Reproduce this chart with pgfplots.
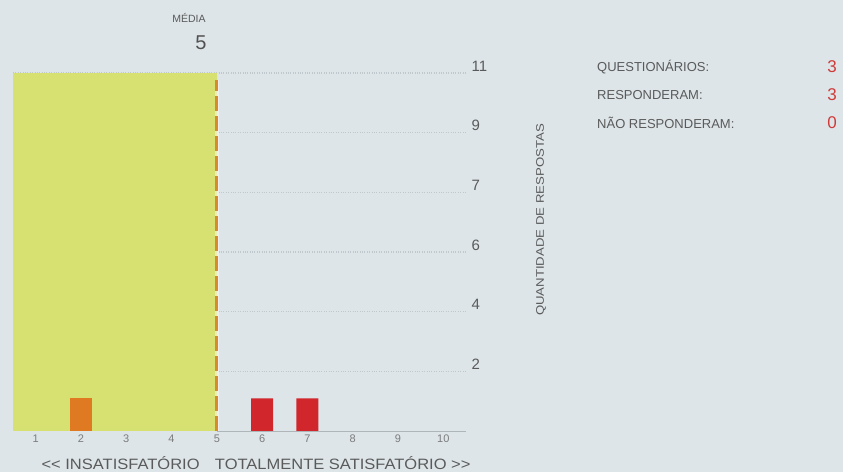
\documentclass[border=0pt]{standalone}
\usepackage{fontspec}
\setmainfont{Liberation Sans}[Ligatures=TeXOff]
\usepackage{pgfplots}
\pgfplotsset{compat=1.18}
\definecolor{bg}{HTML}{DDE5E8}
\definecolor{meanc}{HTML}{D7E171}
\definecolor{orangec}{HTML}{E07A22}
\definecolor{redc}{HTML}{D1262B}
\definecolor{dashc}{HTML}{D98B2B}
\definecolor{gridc}{HTML}{BFC8CC}
\definecolor{basec}{HTML}{AEB6BA}
\definecolor{txtgrey}{HTML}{5A5A5A}
\definecolor{lightgrey}{HTML}{7C7C7C}
\definecolor{valred}{HTML}{CF3A3A}
\begin{document}
\begin{tikzpicture}
\fill[bg] (0,0) rectangle (843bp,472bp);
\begin{axis}[
  at={(13bp,41bp)}, anchor=south west,
  scale only axis, width=453bp, height=358bp,
  xmin=0.5, xmax=10.5, ymin=0, ymax=11,
  axis line style={draw=none},
  tick style={draw=none},
  xtick={1,2,3,4,5,6,7,8,9,10},
  ytick={1.8333,3.6667,5.5,7.3333,9.1667,11},
  yticklabels={2,4,6,7,9,11},
  yticklabel pos=right,
  ymajorgrids,
  grid style={dotted, gridc, line width=1.2bp},
  /pgf/number format/assume math mode=true,
  xticklabel style={font=\fontsize{11bp}{13bp}\selectfont, text=lightgrey},
  yticklabel style={font=\fontsize{15bp}{17bp}\selectfont, text=txtgrey, anchor=west, xshift=2bp, yshift=7bp},
  clip=false,
  no marks,
]
\addplot[fill=meanc, draw=none] coordinates {(0.5,11) (5,11)} \closedcycle;
\addplot[ybar, bar width=22bp, bar shift=0pt, fill=orangec, draw=none] coordinates {(2,1)};
\addplot[ybar, bar width=22bp, bar shift=0pt, fill=redc, draw=none] coordinates {(6,1) (7,1)};
\draw[basec, line width=0.8bp] (axis cs:5,0) -- (axis cs:10.5,0);
\addplot[white, line width=4.5bp, opacity=0.45] coordinates {(5,0) (5,10.8)};
\addplot[dashc, line width=2.8bp, dash pattern=on 15bp off 5bp] coordinates {(5,0) (5,10.8)};
\end{axis}
% mean label
\node[font=\fontsize{10.5bp}{12bp}\selectfont, text=txtgrey] at (189bp,454bp) {MÉDIA};
\node[font=\fontsize{20bp}{22bp}\selectfont, text=txtgrey!90!black] at (201bp,429bp) {5};
% y axis title
\node[rotate=90, font=\fontsize{11bp}{13bp}\selectfont, text=txtgrey, inner sep=0pt] at (541bp,252bp) {\scalebox{1.2}[1]{QUANTIDADE DE RESPOSTAS}};
% x axis title
\node[font=\fontsize{15bp}{17bp}\selectfont, text=txtgrey, inner sep=0pt] at (256bp,9bp) {\scalebox{1.1}[1]{<< INSATISFATÓRIO\hspace{14bp}TOTALMENTE SATISFATÓRIO >>}};
% info block
\node[anchor=west, font=\fontsize{13bp}{15bp}\selectfont, text=txtgrey, inner sep=0pt] at (597bp,405bp) {QUESTIONÁRIOS:};
\node[anchor=west, font=\fontsize{13bp}{15bp}\selectfont, text=txtgrey, inner sep=0pt] at (597bp,377bp) {RESPONDERAM:};
\node[anchor=west, font=\fontsize{13bp}{15bp}\selectfont, text=txtgrey, inner sep=0pt] at (597bp,349bp) {NÃO RESPONDERAM:};
\node[font=\fontsize{17bp}{19bp}\selectfont, text=valred, inner sep=0pt] at (832bp,405bp) {3};
\node[font=\fontsize{17bp}{19bp}\selectfont, text=valred, inner sep=0pt] at (832bp,377bp) {3};
\node[font=\fontsize{17bp}{19bp}\selectfont, text=valred, inner sep=0pt] at (832bp,349bp) {0};
\pgfresetboundingbox
\useasboundingbox (0,0) rectangle (843bp,472bp);
\end{tikzpicture}
\end{document}
